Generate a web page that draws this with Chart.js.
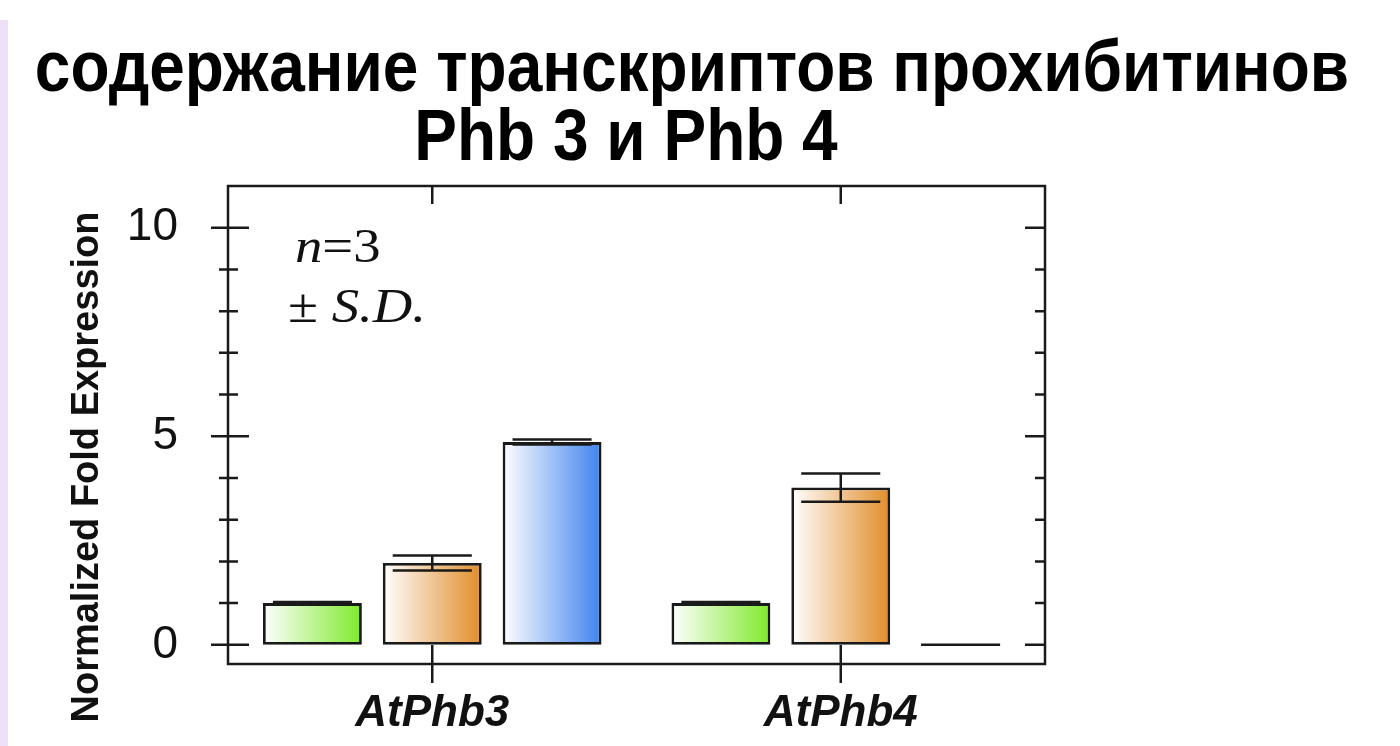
<!DOCTYPE html>
<html lang="ru">
<head>
<meta charset="UTF-8">
<title>Phb 3 и Phb 4</title>
<style>
  body { margin: 0; background: #fff; width: 1400px; height: 746px; overflow: hidden; position: relative; font-family: 'Liberation Sans', Arial, sans-serif; }
  .strip { position: absolute; left: 0; top: 20px; width: 8px; height: 726px; background: #efe0f9; }
  .title { position: absolute; width: 1400px; font-weight: 700; font-size: 64px; line-height: 64px; color: #000; white-space: nowrap; text-align: center; transform: scaleY(1.12); transform-origin: 50% 54px; }
  #wrap { position: absolute; left: 0; top: 0; width: 1400px; height: 746px; }
</style>
</head>
<body>
<div class="strip"></div>
<div id="wrap"><canvas id="chart" width="1400" height="746"></canvas></div>
<div class="title" style="top:37px; left:-8px;">содержание транскриптов прохибитинов</div>
<div class="title" style="top:106px; left:-74px;">Phb 3 и Phb 4</div>
<script src="https://cdn.jsdelivr.net/npm/chart.js"></script>
<script>
const categories = ['AtPhb3', 'AtPhb4'];
const greenValues = [1.0, 1.0];
const greenSD = [0.025, 0.025];
const orangeValues = [1.96, 3.77];
const orangeSD = [0.18, 0.34];
const blueValues = [4.86, 0];
const blueSD = [0.06, 0];
const yMajorTicks = [0, 5, 10];
const yMinorTicks = [1, 2, 3, 4, 6, 7, 8, 9];
const yMin = -0.46;
const yMax = 11;

const ink = '#1a1a1a';

// white-to-colour fill, left to right, per bar
const gradientFill = {
  id: 'gradientFill',
  beforeDatasetsDraw(chart) {
    const ctx = chart.ctx;
    chart.data.datasets.forEach((ds, i) => {
      chart.getDatasetMeta(i).data.forEach(bar => {
        const g = ctx.createLinearGradient(bar.x - bar.width / 2, 0, bar.x + bar.width / 2, 0);
        g.addColorStop(0, '#ffffff');
        g.addColorStop(1, ds.endColor);
        bar.options = Object.assign({}, bar.options, { backgroundColor: g });
      });
    });
  }
};

const errorBars = {
  id: 'errorBars',
  afterDatasetsDraw(chart) {
    const ctx = chart.ctx;
    const y = chart.scales.y;
    ctx.save();
    ctx.strokeStyle = ink;
    ctx.lineWidth = 2.5;
    chart.data.datasets.forEach((ds, i) => {
      chart.getDatasetMeta(i).data.forEach((bar, j) => {
        const v = ds.data[j], sd = ds.sd[j];
        const hi = y.getPixelForValue(v + sd);
        const lo = y.getPixelForValue(v - sd);
        const half = bar.width * 0.4;
        ctx.beginPath();
        ctx.moveTo(bar.x - half, hi); ctx.lineTo(bar.x + half, hi);
        ctx.moveTo(bar.x - half, lo); ctx.lineTo(bar.x + half, lo);
        ctx.moveTo(bar.x, hi); ctx.lineTo(bar.x, lo);
        ctx.stroke();
      });
    });
    ctx.restore();
  }
};

const frame = {
  id: 'frame',
  afterDraw(chart) {
    const ctx = chart.ctx;
    const { left, right, top, bottom } = chart.chartArea;
    const y = chart.scales.y, x = chart.scales.x;
    ctx.save();
    ctx.strokeStyle = ink;
    ctx.lineWidth = 2.5;
    ctx.strokeRect(left, top, right - left, bottom - top);
    ctx.beginPath();
    yMajorTicks.forEach(v => {
      const p = y.getPixelForValue(v);
      ctx.moveTo(left - 17, p); ctx.lineTo(left + 21, p);
      ctx.moveTo(right - 20, p); ctx.lineTo(right, p);
    });
    yMinorTicks.forEach(v => {
      const p = y.getPixelForValue(v);
      ctx.moveTo(left - 9, p); ctx.lineTo(left + 10, p);
      ctx.moveTo(right - 10, p); ctx.lineTo(right, p);
    });
    categories.forEach((c, i) => {
      const p = x.getPixelForValue(i);
      ctx.moveTo(p, top); ctx.lineTo(p, top + 18);
      ctx.moveTo(p, bottom - 19); ctx.lineTo(p, bottom + 19);
    });
    ctx.stroke();
    ctx.restore();

    // n=3 / ± S.D. note, slightly widened like the source figure
    ctx.save();
    ctx.fillStyle = '#111';
    ctx.textBaseline = 'alphabetic';
    ctx.textAlign = 'left';
    ctx.translate(295, 262);
    ctx.scale(1.14, 1);
    let px = 0;
    ctx.font = 'italic 48px "Liberation Serif"';
    ctx.fillText('n', px, 0);
    px += ctx.measureText('n').width;
    ctx.font = '48px "Liberation Serif"';
    ctx.fillText('=3', px, 0);
    ctx.restore();

    ctx.save();
    ctx.fillStyle = '#111';
    ctx.translate(288, 322);
    ctx.scale(1.14, 1);
    ctx.font = '48px "Liberation Serif"';
    ctx.fillText('± ', 0, 0);
    px = ctx.measureText('± ').width;
    ctx.font = 'italic 48px "Liberation Serif"';
    ctx.fillText('S.D.', px, 0);
    ctx.restore();

    ctx.save();
    ctx.fillStyle = '#111';
    ctx.translate(88, 467);
    ctx.rotate(-Math.PI / 2);
    ctx.textAlign = 'center';
    ctx.textBaseline = 'middle';
    ctx.font = 'bold 38px "Liberation Sans"';
    ctx.fillText('Normalized Fold Expression', 0, 0);
    ctx.restore();
  }
};

const barStyle = { borderColor: ink, borderWidth: 2.8, borderSkipped: false, backgroundColor: '#ffffff' };

new Chart(document.getElementById('chart'), {
  type: 'bar',
  data: {
    labels: categories,
    datasets: [
      Object.assign({ data: greenValues, sd: greenSD, endColor: '#7fea2c' }, barStyle),
      Object.assign({ data: orangeValues, sd: orangeSD, endColor: '#e18d2a' }, barStyle),
      Object.assign({ data: blueValues, sd: blueSD, endColor: '#3f83ee' }, barStyle)
    ]
  },
  options: {
    responsive: false,
    animation: false,
    events: [],
    layout: { padding: { top: 186, right: 355, left: 0, bottom: 0 } },
    datasets: { bar: { categoryPercentage: 0.88, barPercentage: 0.825 } },
    plugins: { legend: { display: false }, tooltip: { enabled: false }, title: { display: false } },
    scales: {
      x: {
        grid: { display: false, drawTicks: false },
        border: { display: false },
        ticks: { color: '#111', padding: 23, font: { family: 'Liberation Sans', size: 44, weight: 'bold', style: 'italic' } },
        afterFit: s => { s.height = 82; }
      },
      y: {
        min: yMin,
        max: yMax,
        grid: { display: false, drawTicks: false },
        border: { display: false },
        afterBuildTicks: s => { s.ticks = yMajorTicks.map(v => ({ value: v })); },
        ticks: {
          color: '#111',
          padding: 50,
          font: { family: 'Liberation Sans', size: 46 },
          callback: v => String(v)
        },
        afterFit: s => { s.width = 228; }
      }
    }
  },
  plugins: [gradientFill, errorBars, frame]
});
</script>
</body>
</html>
